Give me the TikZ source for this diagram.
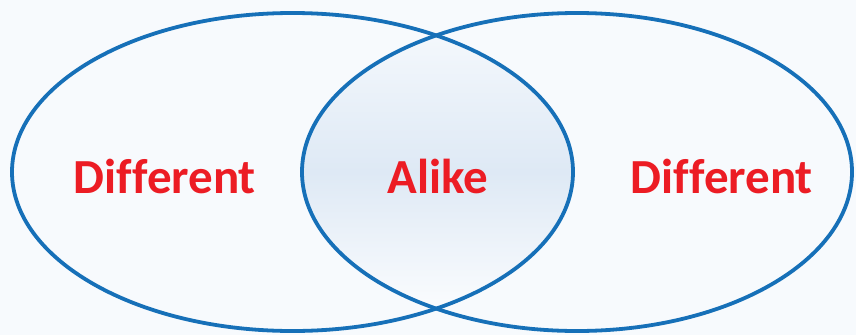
\documentclass[tikz,border=0pt]{standalone}
\usepackage{fontspec}
\setmainfont[Ligatures=NoCommon]{Carlito}
\usetikzlibrary{shapes.geometric}
\definecolor{ringblue}{RGB}{22,112,184}
\definecolor{labelred}{RGB}{236,28,36}
\definecolor{bgtint}{RGB}{247,250,253}
\definecolor{midtint}{RGB}{222,233,245}
\tikzset{
  ring/.style={ellipse, draw=ringblue, line width=3.8pt, inner sep=0pt, outer sep=0pt},
  label/.style={text=labelred, font=\bfseries\fontsize{49}{49}\selectfont, inner sep=0pt, anchor=base}
}
\begin{document}
\begin{tikzpicture}[x=1pt,y=-1pt]
\fill[bgtint] (0,0) rectangle (856,335);
\useasboundingbox (0,0) rectangle (856,335);
\begin{scope}
  \clip (292.5,172) ellipse [x radius=280.5, y radius=159];
  \shade[top color=bgtint, bottom color=white, middle color=midtint]
    (577,172) ellipse [x radius=275, y radius=159];
\end{scope}
\node[ring, minimum width=561pt, minimum height=318pt] (left) at (292.5,172) {};
\node[ring, minimum width=550pt, minimum height=318pt] (right) at (577,172) {};
\node[label] (d1) at (165,193) {Different};
\node[label] (al) at (438,193) {Alike};
\node[label] (d2) at (722,193) {Different};
\end{tikzpicture}
\end{document}
